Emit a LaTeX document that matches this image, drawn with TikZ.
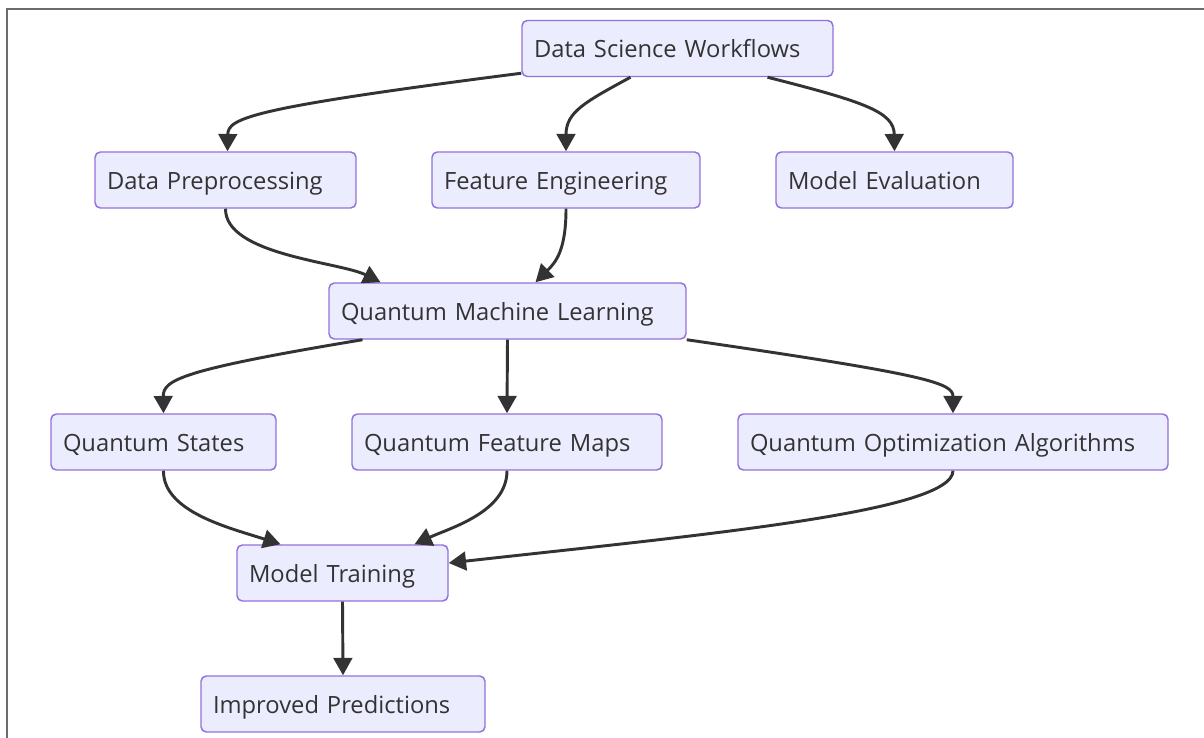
\documentclass[tikz,border=0pt]{standalone}
\usepackage{fontspec}
\setmainfont{Open Sans}
\usetikzlibrary{arrows.meta,calc}
\definecolor{boxfill}{HTML}{ECECFF}
\definecolor{boxline}{HTML}{9370DB}
\definecolor{ink}{HTML}{333333}
\tikzset{
  box/.style={draw=boxline,fill=boxfill,line width=1.1pt,rounded corners=4pt,
    minimum height=42pt,inner xsep=9pt,inner ysep=0pt,align=left,
    text height=17.8pt,text depth=4pt,
    text=ink,font=\fontsize{17.8}{20}\selectfont},
  flow/.style={draw=ink,line width=2.2pt,-{Triangle[length=13pt,width=14pt]}}
}
\begin{document}
\begin{tikzpicture}[x=0.75pt,y=-0.75pt]
\useasboundingbox (0,0) rectangle (1204,738);
\draw[gray!85!black,line width=1.4pt] (7,738) -- (7,9) -- (1204,9);
\node[box,text width=215.25pt] (dsw) at (677.5,48.5) {Data Science Workflows};
\node[box,text width=177.75pt] (dp) at (225.5,180) {Data Preprocessing};
\node[box,text width=183pt] (fe) at (566,180) {Feature Engineering};
\node[box,text width=159.75pt] (me) at (894.5,180) {Model Evaluation};
\node[box,text width=249.75pt] (qml) at (507.5,311) {Quantum Machine Learning};
\node[box,text width=150.75pt] (qs) at (163.5,442) {Quantum States};
\node[box,text width=214.5pt] (qfm) at (507,442) {Quantum Feature Maps};
\node[box,text width=304.5pt] (qoa) at (953,442) {Quantum Optimization Algorithms};
\node[box,text width=140.25pt] (mt) at (342.5,573) {Model Training};
\node[box,text width=195pt] (ip) at (343,704) {Improved Predictions};
% top row
\draw[flow] ($(dsw.south west)+(0,-4)$) .. controls (250,108) and (228,118) .. ($(dp.north)+(2,0)$);
\draw[flow] ($(dsw.south)+(-47,0)$) .. controls (585,102) and (566,112) .. (fe.north);
\draw[flow] ($(dsw.south)+(90,0)$) .. controls (865,102) and (894,112) .. (me.north);
% into qml
\draw[flow] (dp.south) .. controls (225,255) and (340,262) .. ($(qml.north)+(-127,0)$);
\draw[flow] (fe.south) .. controls (566,250) and (556,262) .. ($(qml.north)+(28,0)$);
% out of qml
\draw[flow] ($(qml.south)+(-145,0)$) .. controls (180,370) and (163,380) .. (qs.north);
\draw[flow] (qml.south) -- (qfm.north);
\draw[flow] (qml.south east) .. controls (930,375) and (953,383) .. (qoa.north);
% into training
\draw[flow] (qs.south) .. controls (163,512) and (230,528) .. ($(mt.north)+(-62,0)$);
\draw[flow] (qfm.south) .. controls (507,512) and (450,528) .. ($(mt.north)+(72,0)$);
\draw[flow] (qoa.south) .. controls (953,512) and (700,535) .. ($(mt.east)+(0,-10)$);
\draw[flow] (mt.south) -- (ip.north);
\end{tikzpicture}
\end{document}
